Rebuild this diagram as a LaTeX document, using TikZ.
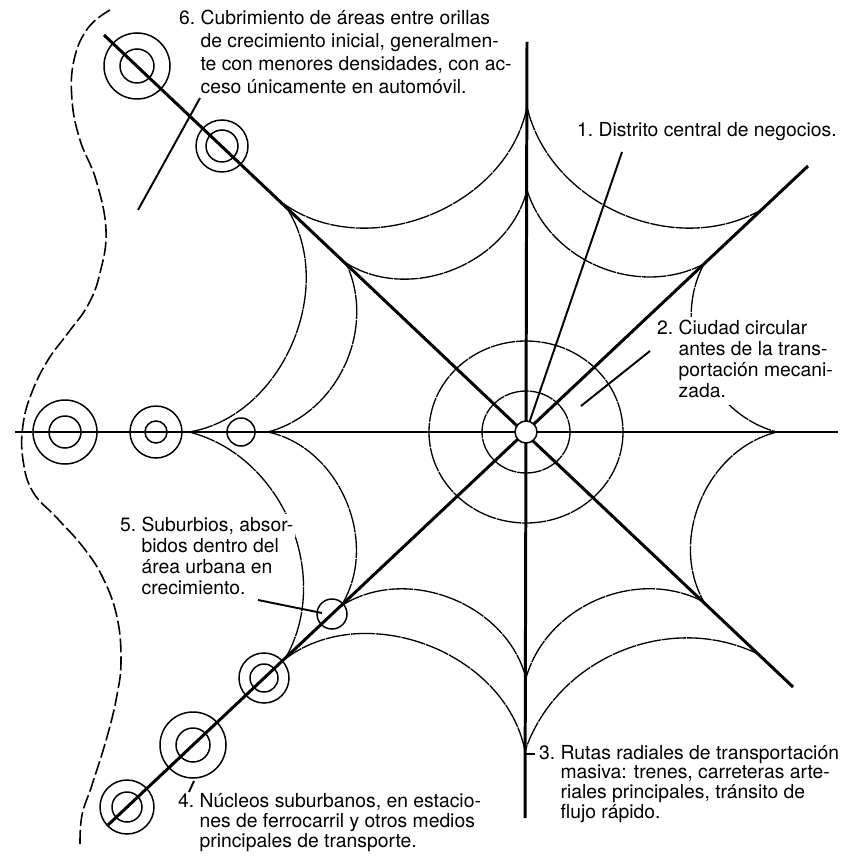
\documentclass[tikz,border=0pt]{standalone}
\usepackage{fontspec}
\setmainfont{TeX Gyre Heros}
\newcommand{\numnote}[2]{\begin{tabular}[t]{@{}l@{\ }l@{}}#1 & #2\end{tabular}}

\begin{document}
\begin{tikzpicture}[
  x=0.02cm, y=-0.02cm,
  radial/.style={line width=1.7pt},
  web/.style={line width=0.75pt, dash pattern=on 14pt off 0.5pt},
  ring/.style={line width=0.85pt},
  edge/.style={line width=0.9pt, dash pattern=on 8pt off 2.2pt},
  leader/.style={line width=1.1pt},
  note/.style={font=\fontsize{11}{12}\selectfont, anchor=base west, inner sep=1pt, fill=white}
]
  \useasboundingbox (0,0) rectangle (847,858);
  \coordinate (cbd) at (526,432);
  \coordinate (wEnd) at (15,432);
  \coordinate (eEnd) at (838,432);
  \coordinate (nEnd) at (527,42);
  \coordinate (sEnd) at (525,818);
  \coordinate (nwEnd) at (104,35);
  \coordinate (seEnd) at (793,687);
  \coordinate (neEnd) at (808,166);
  \coordinate (swEnd) at (108,825);
  \coordinate (iN) at (527,190);
  \coordinate (iNE) at (704,264);
  \coordinate (iE) at (777,432);
  \coordinate (iSE) at (704,602);
  \coordinate (iS) at (526,678);
  \coordinate (iSW) at (341,606);
  \coordinate (iW) at (268,432);
  \coordinate (iNW) at (346,263);
  \coordinate (oN) at (527,107);
  \coordinate (oNE) at (761,210);
  \coordinate (oSE) at (760,655);
  \coordinate (oS) at (525,751);
  \coordinate (oSW) at (285,659);
  \coordinate (oW) at (189,432);
  \coordinate (oNW) at (284,204);
  \foreach \a/\b/\k in {iN/iNE/50, iNE/iE/52, iE/iSE/53, iSE/iS/51, iS/iSW/54, iSW/iW/55, iW/iNW/50, iNW/iN/54,
    oSE/oS/49, oS/oSW/58, oSW/oW/53, oW/oNW/58, oNW/oN/57, oN/oNE/53}
    \draw[web] (\a) to[bend right=\k] (\b);
  \draw[web] (cbd) ellipse[x radius=97, y radius=91];
  \draw[web] (cbd) ellipse[x radius=44, y radius=41];
  \draw[edge] plot[smooth, tension=0.7] coordinates {(110,10) (88,28) (74,60) (72,100) (80,140) (96,180) (106,230)
    (100,273) (88,305) (68,333) (48,360) (32,392) (23,425) (23,460) (33,492) (57,518) (83,547) (103,578)
    (117,617) (121,660) (117,695) (107,737) (92,785) (82,815) (80,845)};
  \draw[radial] (wEnd) -- (eEnd);
  \draw[radial] (nEnd) -- (sEnd);
  \draw[radial] (nwEnd) -- (seEnd);
  \draw[radial] (neEnd) -- (swEnd);
  \foreach \x/\y/\ro/\ri in {137/66/33/17, 222/146/26/16, 65/432/32/16, 156/432/26/11,
    264/678/25/14, 193/745/33/17, 127/807/27/15} {
    \draw[ring] (\x,\y) circle[radius=\ro];
    \draw[ring] (\x,\y) circle[radius=\ri];
  }
  \draw[ring] (241,432) circle[radius=14];
  \draw[ring] (332,614) circle[radius=15];
  \coordinate (l1a) at (622,152);
  \draw[leader] (l1a) -- (cbd);
  \draw[ring, fill=white] (cbd) circle[radius=11];
  \node[note] (lab1) at (575,137) {\numnote{1.}{Distrito central de negocios.}};
  \node[note] (lab2) at (655,334) {\numnote{2.}{Ciudad circular\\ & antes de la trans-\\ & portación mecani-\\ & zada.}};
  \node[note, font=\fontsize{11}{11}\selectfont] (lab3) at (537,759) {\numnote{3.}{Rutas radiales de transportación\\ & masiva: trenes, carreteras arte-\\ & riales principales, tránsito de\\ & flujo rápido.}};
  \node[note, font=\fontsize{11}{11.2}\selectfont] (lab4) at (176,807) {\numnote{4.}{Núcleos suburbanos, en estacio-\\ & nes de ferrocarril y otros medios\\ & principales de transporte.}};
  \node[note] (lab5) at (118,531) {\numnote{5.}{Suburbios, absor-\\ & bidos dentro del\\ & área urbana en\\ & crecimiento.}};
  \node[note, font=\fontsize{11}{13}\selectfont] (lab6) at (177,25) {\numnote{6.}{Cubrimiento de áreas entre orillas\\ & de crecimiento inicial, generalmen-\\ & te con menores densidades, con ac-\\ & ceso únicamente en automóvil.}};
  \coordinate (l2a) at (650,351);
  \coordinate (l2b) at (581,406);
  \draw[leader] (l2a) -- (l2b);
  \coordinate (l3a) at (526,754);
  \coordinate (l3b) at (535,754);
  \draw[leader] (l3a) -- (l3b);
  \coordinate (l4a) at (194,781);
  \coordinate (l4b) at (189,792);
  \draw[leader] (l4a) -- (l4b);
  \coordinate (l5a) at (258,600);
  \coordinate (l5b) at (322,613);
  \draw[leader] (l5a) -- (l5b);
  \coordinate (l6a) at (200,98);
  \coordinate (l6b) at (138,210);
  \draw[leader] (l6a) -- (l6b);
\end{tikzpicture}
\end{document}
